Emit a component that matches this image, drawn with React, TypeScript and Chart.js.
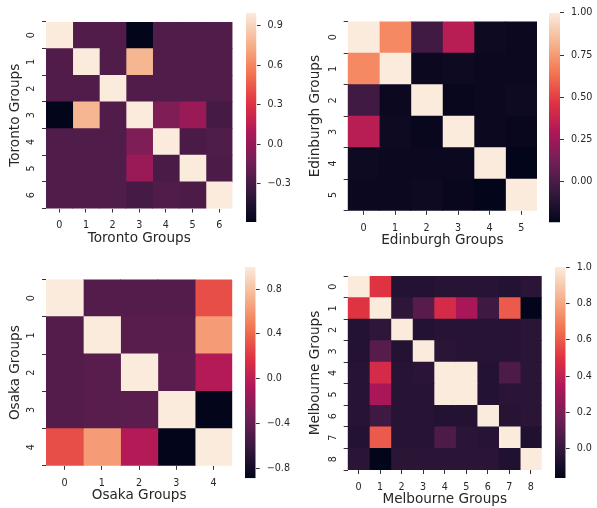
import React, { useEffect, useRef } from "react";
import { Chart, registerables } from "chart.js";

Chart.register(...registerables);

const FONT = "'DejaVu Sans', sans-serif";
const TEXT = "#262626";

// ---------------- data ----------------
const TORONTO_LABELS = ["0", "1", "2", "3", "4", "5", "6"];
const TORONTO_VALUES = [
  [1, -0.25, -0.25, -0.59, -0.26, -0.26, -0.26],
  [-0.25, 1, -0.26, 0.78, -0.26, -0.26, -0.26],
  [-0.25, -0.26, 1, -0.25, -0.26, -0.26, -0.26],
  [-0.59, 0.78, -0.25, 1, -0.08, 0.02, -0.3],
  [-0.26, -0.26, -0.26, -0.08, 1, -0.28, -0.26],
  [-0.26, -0.26, -0.26, 0.02, -0.28, 1, -0.27],
  [-0.26, -0.26, -0.26, -0.3, -0.26, -0.27, 1],
];
const TORONTO_CBAR_TICKS = [-0.3, 0, 0.3, 0.6, 0.9];
const TORONTO_CBAR_LABELS = ["\u22120.3", "0.0", "0.3", "0.6", "0.9"];

const EDINBURGH_LABELS = ["0", "1", "2", "3", "4", "5"];
const EDINBURGH_VALUES = [
  [1, 0.7, -0.03, 0.33, -0.2, -0.21],
  [0.7, 1, -0.21, -0.2, -0.21, -0.21],
  [-0.03, -0.21, 1, -0.22, -0.21, -0.2],
  [0.33, -0.2, -0.22, 1, -0.21, -0.22],
  [-0.2, -0.21, -0.21, -0.21, 1, -0.24],
  [-0.21, -0.21, -0.2, -0.22, -0.24, 1],
];
const EDINBURGH_CBAR_TICKS = [0, 0.25, 0.5, 0.75, 1.0];
const EDINBURGH_CBAR_LABELS = ["0.00", "0.25", "0.50", "0.75", "1.00"];

const OSAKA_LABELS = ["0", "1", "2", "3", "4"];
const OSAKA_VALUES = [
  [1, -0.48, -0.48, -0.48, 0.3],
  [-0.48, 1, -0.46, -0.46, 0.62],
  [-0.48, -0.46, 1, -0.45, -0.05],
  [-0.48, -0.46, -0.45, 1, -0.89],
  [0.3, 0.62, -0.05, -0.89, 1],
];
const OSAKA_CBAR_TICKS = [-0.8, -0.4, 0, 0.4, 0.8];
const OSAKA_CBAR_LABELS = ["\u22120.8", "\u22120.4", "0.0", "0.4", "0.8"];

const MELBOURNE_LABELS = ["0", "1", "2", "3", "4", "5", "6", "7", "8"];
const MELBOURNE_VALUES = [
  [1, 0.5, -0.05, -0.05, -0.04, -0.04, -0.04, -0.05, -0.03],
  [0.5, 1, -0.02, 0.1, 0.46, 0.33, 0.03, 0.6, -0.16],
  [-0.05, -0.02, 1, -0.05, -0.04, -0.04, -0.04, -0.04, -0.03],
  [-0.05, 0.1, -0.05, 1, -0.03, -0.04, -0.04, -0.04, -0.03],
  [-0.04, 0.46, -0.04, -0.03, 1, 1, -0.05, 0.07, -0.03],
  [-0.04, 0.33, -0.04, -0.04, 1, 1, -0.05, -0.03, -0.03],
  [-0.04, 0.03, -0.04, -0.04, -0.05, -0.05, 1, -0.04, -0.03],
  [-0.05, 0.6, -0.04, -0.04, 0.07, -0.03, -0.04, 1, -0.06],
  [-0.03, -0.16, -0.03, -0.03, -0.03, -0.03, -0.03, -0.06, 1],
];
const MELBOURNE_CBAR_TICKS = [0, 0.2, 0.4, 0.6, 0.8, 1.0];
const MELBOURNE_CBAR_LABELS = ["0.0", "0.2", "0.4", "0.6", "0.8", "1.0"];

// ---------------- colormap (seaborn "rocket") ----------------
const ROCKET_STOPS: [number, string][] = [
  [0, "#03051A"],
  [1 / 7, "#35193E"],
  [2 / 7, "#701F57"],
  [3 / 7, "#AD1759"],
  [4 / 7, "#E13342"],
  [5 / 7, "#F37651"],
  [6 / 7, "#F6B48F"],
  [1, "#FAEBDD"],
];

function hexToRgb(h: string) {
  const n = parseInt(h.slice(1), 16);
  return [(n >> 16) & 255, (n >> 8) & 255, n & 255];
}

function rocket(t: number) {
  const x = Math.max(0, Math.min(1, t));
  for (let k = 0; k < ROCKET_STOPS.length - 1; k++) {
    const [p0, c0] = ROCKET_STOPS[k];
    const [p1, c1] = ROCKET_STOPS[k + 1];
    if (x <= p1) {
      const f = (x - p0) / (p1 - p0);
      const a = hexToRgb(c0);
      const b = hexToRgb(c1);
      const r = a.map((v, i) => Math.round(v + (b[i] - v) * f));
      return `rgb(${r[0]},${r[1]},${r[2]})`;
    }
  }
  return ROCKET_STOPS[ROCKET_STOPS.length - 1][1];
}

// ---------------- layout ----------------
type Geo = {
  left: number;
  top: number;
  areaX: number;
  areaY: number;
  size: number;
  cbX: number;
  cbY: number;
  cbW: number;
  cbH: number;
};

const X_AXIS_H = 38;
const HEAT_W = 245;

type PanelDef = {
  title: string;
  labels: string[];
  values: number[][];
  cbTicks: number[];
  cbLabels: string[];
  geo: Geo;
};

const PANELS: PanelDef[] = [
  {
    title: "Toronto Groups",
    labels: TORONTO_LABELS,
    values: TORONTO_VALUES,
    cbTicks: TORONTO_CBAR_TICKS,
    cbLabels: TORONTO_CBAR_LABELS,
    geo: { left: 0, top: 0, areaX: 46, areaY: 22, size: 186.5, cbX: 245.5, cbY: 10, cbW: 10.5, cbH: 212 },
  },
  {
    title: "Edinburgh Groups",
    labels: EDINBURGH_LABELS,
    values: EDINBURGH_VALUES,
    cbTicks: EDINBURGH_CBAR_TICKS,
    cbLabels: EDINBURGH_CBAR_LABELS,
    geo: { left: 300, top: 0, areaX: 47.7, areaY: 21.5, size: 189.3, cbX: 549, cbY: 10, cbW: 11, cbH: 212.5 },
  },
  {
    title: "Osaka Groups",
    labels: OSAKA_LABELS,
    values: OSAKA_VALUES,
    cbTicks: OSAKA_CBAR_TICKS,
    cbLabels: OSAKA_CBAR_LABELS,
    geo: { left: 0, top: 250, areaX: 46, areaY: 29.5, size: 186.3, cbX: 245, cbY: 266.7, cbW: 10.7, cbH: 211.6 },
  },
  {
    title: "Melbourne Groups",
    labels: MELBOURNE_LABELS,
    values: MELBOURNE_VALUES,
    cbTicks: MELBOURNE_CBAR_TICKS,
    cbLabels: MELBOURNE_CBAR_LABELS,
    geo: { left: 300, top: 250, areaX: 47.7, areaY: 26, size: 194, cbX: 555, cbY: 267, cbW: 10.7, cbH: 211 },
  },
];

function range(values: number[][]) {
  const flat = values.flat();
  return { vmin: Math.min(...flat), vmax: Math.max(...flat) };
}

const gridOpts = {
  display: true,
  drawOnChartArea: false,
  drawTicks: true,
  tickLength: 4,
  tickColor: "#333333",
  tickWidth: 1,
};

function Heatmap({ p }: { p: PanelDef }) {
  const ref = useRef<HTMLCanvasElement>(null);
  const g = p.geo;
  const H = Math.ceil(g.areaY + g.size + X_AXIS_H);
  useEffect(() => {
    const { vmin, vmax } = range(p.values);
    const labels = p.labels;
    const n = labels.length;
    const chart = new Chart(ref.current as HTMLCanvasElement, {
      type: "bar",
      data: {
        labels,
        datasets: labels.map((_, j) => ({
          data: labels.map(() => 1),
          backgroundColor: labels.map((_, i) => rocket((p.values[i][j] - vmin) / (vmax - vmin))),
          borderWidth: 0,
          barPercentage: 1,
          categoryPercentage: 1,
          inflateAmount: 0.4,
          stack: "cells",
        })),
      },
      options: {
        indexAxis: "y",
        animation: false,
        responsive: false,
        maintainAspectRatio: false,
        events: [],
        layout: {
          padding: {
            top: g.areaY,
            right: HEAT_W - g.areaX - g.size,
            left: 0,
            bottom: H - (g.areaY + g.size + X_AXIS_H),
          },
        },
        plugins: { legend: { display: false }, tooltip: { enabled: false } },
        scales: {
          x: {
            type: "linear",
            stacked: true,
            min: 0,
            max: n,
            afterBuildTicks: (s: any) => {
              s.ticks = labels.map((_, j) => ({ value: j + 0.5 }));
            },
            afterFit: (s: any) => {
              s.height = X_AXIS_H;
            },
            ticks: {
              autoSkip: false,
              maxRotation: 0,
              minRotation: 0,
              padding: 7.5,
              color: TEXT,
              font: { family: FONT, size: 9.6 },
              callback: (v: any) => labels[Math.floor(Number(v))],
            },
            grid: gridOpts,
            border: { display: false },
            title: {
              display: true,
              text: p.title,
              color: TEXT,
              font: { family: FONT, size: 13.6 },
              padding: { top: 0, bottom: 0 },
            },
          },
          y: {
            type: "category",
            stacked: true,
            afterFit: (s: any) => {
              s.width = g.areaX;
            },
            ticks: {
              autoSkip: false,
              minRotation: 90,
              maxRotation: 90,
              crossAlign: "center",
              padding: 7,
              color: TEXT,
              font: { family: FONT, size: 9.6 },
            },
            grid: gridOpts,
            border: { display: false },
            title: {
              display: true,
              text: p.title,
              color: TEXT,
              font: { family: FONT, size: 13.6 },
              padding: { top: 7, bottom: 0 },
            },
          },
        },
      } as any,
    });
    return () => chart.destroy();
  }, []);
  return (
    <canvas
      ref={ref}
      width={HEAT_W}
      height={H}
      style={{ position: "absolute", left: g.left, top: g.top, width: HEAT_W, height: H }}
    />
  );
}

const CB_W = 60;
const CB_PADL = 6;

function Colorbar({ p }: { p: PanelDef }) {
  const ref = useRef<HTMLCanvasElement>(null);
  const g = p.geo;
  const H = 258;
  useEffect(() => {
    const { vmin, vmax } = range(p.values);
    const chart = new Chart(ref.current as HTMLCanvasElement, {
      type: "bar",
      data: {
        labels: [""],
        datasets: [
          {
            data: [[vmin, vmax]],
            backgroundColor: (ctx: any) => {
              const c = ctx.chart;
              const area = c.chartArea;
              if (!area) return "#000";
              const grad = c.ctx.createLinearGradient(0, area.bottom, 0, area.top);
              ROCKET_STOPS.forEach(([pos, col]) => grad.addColorStop(pos, col));
              return grad;
            },
            borderWidth: 0,
            barPercentage: 1,
            categoryPercentage: 1,
            inflateAmount: 0,
          },
        ],
      },
      options: {
        animation: false,
        responsive: false,
        maintainAspectRatio: false,
        events: [],
        layout: {
          padding: {
            left: CB_PADL,
            right: 0,
            top: g.cbY - g.top,
            bottom: H - (g.cbY - g.top + g.cbH),
          },
        },
        plugins: { legend: { display: false }, tooltip: { enabled: false } },
        scales: {
          x: { type: "category", display: false },
          y: {
            type: "linear",
            position: "right",
            min: vmin,
            max: vmax,
            afterBuildTicks: (s: any) => {
              s.ticks = p.cbTicks.map((v) => ({ value: v }));
            },
            afterFit: (s: any) => {
              s.width = CB_W - CB_PADL - g.cbW;
            },
            ticks: {
              autoSkip: false,
              padding: 7,
              color: TEXT,
              font: { family: FONT, size: 9.6 },
              callback: (_v: any, i: number) => p.cbLabels[i],
            },
            grid: gridOpts,
            border: { display: false },
          },
        },
      } as any,
    });
    return () => chart.destroy();
  }, []);
  return (
    <canvas
      ref={ref}
      width={CB_W}
      height={H}
      style={{ position: "absolute", left: g.cbX - CB_PADL, top: g.top, width: CB_W, height: H }}
    />
  );
}

export default function App() {
  return (
    <div
      style={{
        position: "fixed",
        left: 0,
        top: 0,
        width: 597,
        height: 508,
        background: "#ffffff",
        overflow: "hidden",
      }}
    >
      {PANELS.map((p) => (
        <React.Fragment key={p.title}>
          <Heatmap p={p} />
          <Colorbar p={p} />
        </React.Fragment>
      ))}
    </div>
  );
}
